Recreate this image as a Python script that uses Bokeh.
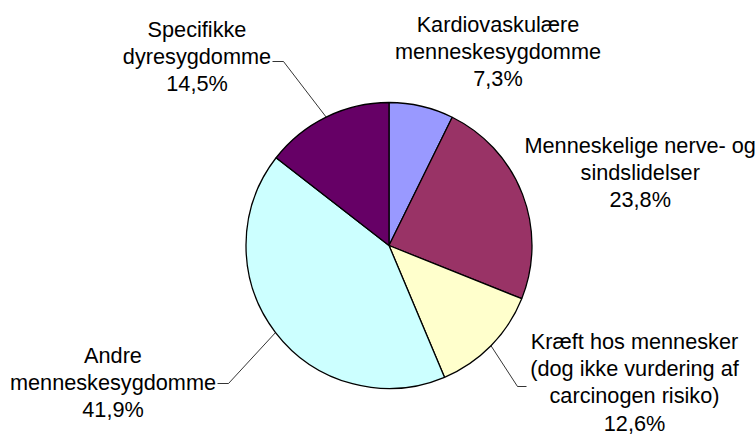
import math
from bokeh.plotting import figure
from bokeh.models import Range1d
from bokeh.core.properties import value
from bokeh.embed import file_html
from bokeh.resources import INLINE

# ---- data ----
categories = [
    "Kardiovaskulære menneskesygdomme",
    "Menneskelige nerve- og sindslidelser",
    "Kræft hos mennesker (dog ikke vurdering af carcinogen risiko)",
    "Andre menneskesygdomme",
    "Specifikke dyresygdomme",
]
label_lines = [
    ["Kardiovaskulære", "menneskesygdomme"],
    ["Menneskelige nerve- og", "sindslidelser"],
    ["Kræft hos mennesker", "(dog ikke vurdering af", "carcinogen risiko)"],
    ["Andre", "menneskesygdomme"],
    ["Specifikke", "dyresygdomme"],
]
percent = [7.3, 23.8, 12.6, 41.9, 14.5]
colors = ["#9999FF", "#993366", "#FFFFCC", "#CCFFFF", "#660066"]

# ---- layout (screen px) ----
W, H = 756, 437
def sx(X): return X
def sy(Y): return H - Y

CX, CY, R = 388.5, 245.0, 143.0
TEXT_SHIFT = -8.5
label_anchor = [(497.5, 32.3), (639.7, 153.3), (634.0, 349.2), (112.5, 363.3), (196.5, 37.3)]
leader_elbow = [None, None, [(517, 386), (526, 386)], [(228, 383), (217, 383)], [(283, 61), (272, 61)]]
LINE_H = 27.3

p = figure(width=W, height=H, output_backend="svg", toolbar_location=None,
           x_range=Range1d(0, W), y_range=Range1d(0, H), min_border=0)
p.axis.visible = False
p.grid.visible = False
p.outline_line_color = None
p.background_fill_color = "white"
p.border_fill_color = "white"

total = sum(percent)
cum = 0.0
starts, ends, mids = [], [], []
for v in percent:
    a0 = math.pi / 2 - 2 * math.pi * cum / total
    a1 = math.pi / 2 - 2 * math.pi * (cum + v) / total
    starts.append(a0)
    ends.append(a1)
    mids.append((a0 + a1) / 2)
    cum += v

p.wedge(x=[sx(CX)] * len(percent), y=[sy(CY)] * len(percent), radius=R,
        start_angle=starts, end_angle=ends, direction="clock",
        fill_color=colors, line_color="black", line_width=1.3)

# leader lines
for i, elbow in enumerate(leader_elbow):
    if elbow is None:
        continue
    ex = CX + R * math.cos(mids[i])
    ey = CY - R * math.sin(mids[i])
    xs = [sx(ex)] + [sx(e[0]) for e in elbow]
    ys = [sy(ey)] + [sy(e[1]) for e in elbow]
    p.line(xs, ys, line_color="black", line_width=0.8)

# labels
for i, lines in enumerate(label_lines):
    txt = lines + [f"{percent[i]:.1f}".replace(".", ",") + "%"]
    ax, ay = label_anchor[i]
    p.text(x=[sx(ax)] * len(txt),
           y=[sy(ay + TEXT_SHIFT + k * LINE_H) for k in range(len(txt))], text=txt,
           text_font=value("Liberation Sans"), text_font_size="21.7px",
           text_align="center", text_baseline="alphabetic", text_color="black")

open("out.html", "w").write(file_html(p, INLINE))
